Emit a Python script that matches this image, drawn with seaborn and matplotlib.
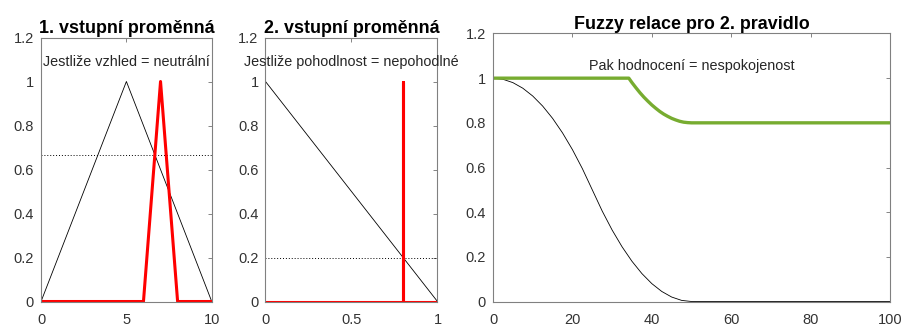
# fuzzy inference - rule 2: inputs and resulting fuzzy relation
import matplotlib
matplotlib.use('Agg')
import matplotlib.pyplot as plt
import seaborn as sns

# panel 1 - vzhled
x1_set = [0, 5, 10]
y1_set = [0, 1, 0]
x1_in = [0, 6, 7, 8, 10]
y1_in = [0, 0, 1, 0, 0]
cut1 = 2 / 3

# panel 2 - pohodlnost
x2_set = [0, 1]
y2_set = [1, 0]
x2_in = [0, 0.8, 0.8, 0.8, 1]
y2_in = [0, 0, 1, 0, 0]
cut2 = 0.2

# panel 3 - hodnoceni (nespokojenost) and the relation
x3_set = [0, 2.5, 5, 7.5, 10, 12.5, 15, 17.5, 20, 22.5, 25, 27.5, 30,
          32.5, 35, 37.5, 40, 42.5, 45, 47.5, 50, 100]
y3_set = [1, 0.995, 0.98, 0.955, 0.92, 0.875, 0.82, 0.755, 0.68, 0.595, 0.5,
          0.405, 0.32, 0.245, 0.18, 0.125, 0.08, 0.045, 0.02, 0.005, 0, 0]
x3_rel = [0, 34.2, 35, 36, 37, 38, 39, 40, 41, 42, 43, 44, 45, 46, 47, 48, 49, 50, 100]
y3_rel = [1, 1, 0.98, 0.957, 0.935, 0.915, 0.897, 0.88, 0.865, 0.851, 0.839,
          0.829, 0.82, 0.813, 0.807, 0.803, 0.801, 0.8, 0.8]

titles = ['1. vstupní proměnná', '2. vstupní proměnná', 'Fuzzy relace pro 2. pravidlo']
labels = ['Jestliže vzhled = neutrální', 'Jestliže pohodlnost = nepohodlné',
          'Pak hodnocení = nespokojenost']
xticks = [[0, 5, 10], [0, 0.5, 1], [0, 20, 40, 60, 80, 100]]
yticks = [0, 0.2, 0.4, 0.6, 0.8, 1, 1.2]

sns.set_style('white')
plt.rcParams['font.family'] = ['Liberation Sans', 'DejaVu Sans']

fig = plt.figure(figsize=(9.08, 3.31), dpi=100)
ax1 = fig.add_axes([0.0452, 0.0891, 0.188, 0.7976])
ax2 = fig.add_axes([0.2924, 0.0891, 0.1894, 0.7976])
ax3 = fig.add_axes([0.543, 0.0891, 0.4372, 0.8097])

sns.lineplot(x=x1_set, y=y1_set, ax=ax1, color='black', lw=0.6, sort=False, estimator=None)
ax1.axhline(cut1, color='black', lw=0.7, ls=(0, (1, 2)))
sns.lineplot(x=x1_in, y=y1_in, ax=ax1, color='red', lw=2.2, sort=False, estimator=None)

sns.lineplot(x=x2_set, y=y2_set, ax=ax2, color='black', lw=0.6, sort=False, estimator=None)
ax2.axhline(cut2, color='black', lw=0.7, ls=(0, (1, 2)))
sns.lineplot(x=x2_in, y=y2_in, ax=ax2, color='red', lw=2.2, sort=False, estimator=None)

sns.lineplot(x=x3_set, y=y3_set, ax=ax3, color='black', lw=0.6, sort=False, estimator=None)
sns.lineplot(x=x3_rel, y=y3_rel, ax=ax3, color='#77AC30', lw=2.4, sort=False, estimator=None)

for i, ax in enumerate([ax1, ax2, ax3]):
    ax.set_xlim(xticks[i][0], xticks[i][-1])
    ax.set_ylim(0, 1.2)
    ax.set_xticks(xticks[i])
    ax.set_yticks(yticks)
    ax.set_xticklabels([f'{v:g}' for v in xticks[i]])
    ax.set_yticklabels([f'{v:g}' for v in yticks])
    ax.tick_params(direction='in', length=3, width=0.6, color='#707070',
                   labelsize=10.5, labelcolor='#333333', top=True, right=True)
    ax.tick_params(axis='x', pad=8.5)
    ax.tick_params(axis='y', pad=5)
    for s in ax.spines.values():
        s.set_visible(True)
        s.set_color('#808080')
        s.set_linewidth(0.8)
    ax.set_title(titles[i], fontsize=12.9, fontweight='bold', color='black', pad=3)
    xmid = (xticks[i][0] + xticks[i][-1]) / 2
    ypos = 1.09 if i < 2 else 1.055
    ax.text(xmid, ypos, labels[i], ha='center', va='center', fontsize=10.4, clip_on=False)

fig.savefig('out.png', dpi=100)
